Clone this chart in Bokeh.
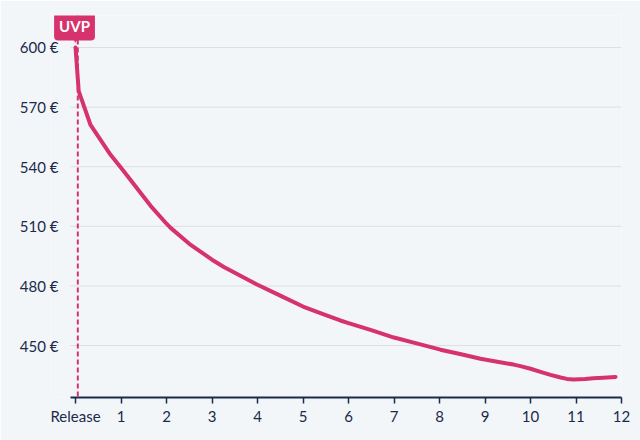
from bokeh.plotting import figure
from bokeh.models import Range1d, FixedTicker, Span, Label, PrintfTickFormatter
from bokeh.embed import file_html
from bokeh.resources import INLINE

# ---- data ----
months = [0, 0.07, 0.33, 0.77, 1.0, 1.21, 1.5, 1.65, 2.0, 2.09, 2.5, 3.0, 3.26, 3.5,
          3.77, 4.0, 4.5, 5.0, 5.5, 5.82, 6.0, 6.5, 7.0, 7.58, 8.02, 8.5, 8.9, 9.3,
          9.63, 9.78, 10.0, 10.22, 10.44, 10.66, 10.8, 10.95, 11.2, 11.38, 11.6, 11.87]
prices = [600, 578, 561, 546, 539.5, 533.3, 524.8, 520.3, 511.3, 509.2, 501.2, 493.2, 489.5, 486.6,
          483.3, 480.6, 475.1, 469.6, 465.3, 462.6, 461.3, 457.7, 454.0, 450.6, 447.9, 445.5,
          443.3, 441.7, 440.4, 439.6, 438.3, 436.7, 435.2, 433.9, 433.2, 432.9, 433.1, 433.5,
          433.8, 434.2]
x_ticks = list(range(0, 13))
x_tick_labels = ["Release"] + [str(i) for i in range(1, 13)]
y_ticks = [450, 480, 510, 540, 570, 600]
release_marker = 0.05
uvp_price = 600
uvp_text = "UVP"

PINK = "#d6336c"
NAVY = "#1b2a4a"
BG = "#f3f6f9"
FONT = "Lato"

X_START, X_END = -0.55, 12.0
GRID_START = -0.11
Y_START, Y_END = 423.83, 616.1

p = figure(width=640, height=440, output_backend="svg", toolbar_location=None,
           x_range=Range1d(X_START, X_END), y_range=Range1d(Y_START, Y_END),
           min_border_left=50, min_border_right=19, min_border_top=15, min_border_bottom=43)

p.background_fill_color = BG
p.border_fill_color = BG
p.outline_line_color = None

# axes
p.xaxis.ticker = FixedTicker(ticks=x_ticks)
p.xaxis.bounds = (GRID_START, X_END)
p.xaxis.major_label_overrides = {t: l for t, l in zip(x_ticks, x_tick_labels)}
p.xaxis.axis_line_color = NAVY
p.xaxis.axis_line_width = 2
p.xaxis.major_tick_line_color = NAVY
p.xaxis.major_tick_line_width = 1.5
p.xaxis.major_tick_out = 6
p.xaxis.major_tick_in = 0
p.xaxis.minor_tick_line_color = None
p.xaxis.major_label_standoff = 3
p.xaxis.major_label_text_font = FONT
p.xaxis.major_label_text_font_size = "15px"
p.xaxis.major_label_text_color = NAVY

p.yaxis.ticker = FixedTicker(ticks=y_ticks)
p.yaxis.formatter = PrintfTickFormatter(format="%d\u00a0€")
p.yaxis.axis_line_color = None
p.yaxis.major_tick_line_color = None
p.yaxis.minor_tick_line_color = None
p.yaxis.major_tick_out = 0
p.yaxis.major_tick_in = 0
p.yaxis.major_label_standoff = -8
p.yaxis.major_label_text_font = FONT
p.yaxis.major_label_text_font_size = "15px"
p.yaxis.major_label_text_color = NAVY

p.xgrid.grid_line_color = None
p.ygrid.grid_line_color = None

# horizontal gridlines (start at the axis start, not at the frame edge)
p.segment(x0=[GRID_START] * len(y_ticks), y0=y_ticks, x1=[X_END] * len(y_ticks), y1=y_ticks,
          line_color="#dcdfe3", line_width=1)

# release dashed marker
p.add_layout(Span(location=release_marker, dimension="height", line_color=PINK,
                  line_width=2, line_dash="5 3"))

# price line
p.line(months, prices, line_color=PINK, line_width=4, line_join="round", line_cap="round")

# UVP label
p.add_layout(Label(x=0, y=uvp_price, text="▼", text_color=PINK, text_font="DejaVu Sans",
                   text_font_size="9px", text_align="center", text_baseline="middle",
                   y_offset=8))
p.add_layout(Label(x=0, y=uvp_price, text=uvp_text, text_color="white", text_font=FONT,
                   text_font_style="bold", text_font_size="15px", text_align="center",
                   text_baseline="middle", x_offset=-1, y_offset=21,
                   background_fill_color=PINK, border_radius=4, padding=5))

open("out.html", "w").write(file_html(p, INLINE))
